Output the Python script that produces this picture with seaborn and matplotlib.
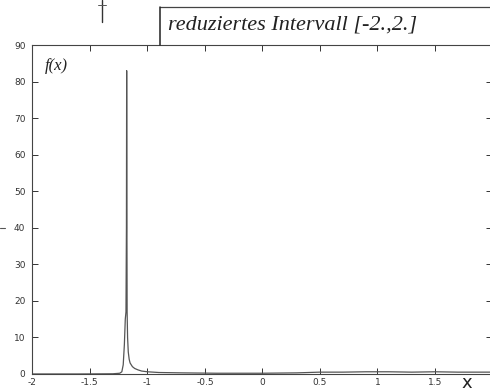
import numpy as np
import pandas as pd
import matplotlib.pyplot as plt
import seaborn as sns
from matplotlib.lines import Line2D

sns.set_theme(style="ticks")
plt.rcParams['font.family'] = ['DejaVu Sans']

# values (spike near x = -1.18)
x_vals = [-2.0, -1.6, -1.3, -1.24, -1.222, -1.21, -1.2, -1.192, -1.186, -1.182,
          -1.18, -1.178, -1.176, -1.172, -1.166, -1.158, -1.15, -1.13, -1.11,
          -1.08, -1.05, -1.0, -0.9, -0.7, -0.4, 0.0, 0.3, 0.5, 0.7, 0.9, 1.1,
          1.3, 1.5, 1.7, 2.0]
f_vals = [0.0, 0.0, 0.05, 0.2, 0.6, 2.5, 8.0, 15.0, 17.0, 40.0,
          83.0, 45.0, 17.0, 10.0, 6.0, 4.0, 3.0, 2.0, 1.5,
          1.1, 0.8, 0.6, 0.4, 0.3, 0.2, 0.2, 0.3, 0.5, 0.5, 0.6, 0.6,
          0.5, 0.6, 0.5, 0.5]
x_ticks = [-2, -1.5, -1, -0.5, 0, 0.5, 1, 1.5, 2]
x_tick_labels = ['-2', '-1.5', '-1', '-0.5', '0', '0.5', '1', '1.5', '']  # "2" lies outside the scan
y_ticks = [0, 10, 20, 30, 40, 50, 60, 70, 80, 90]

df = pd.DataFrame({'x': x_vals, 'f': f_vals})

fig = plt.figure(figsize=(4.9, 3.92), dpi=100)
ax = fig.add_axes([0.066, 0.046, 0.939, 0.839])

sns.lineplot(data=df, x='x', y='f', ax=ax, color='#555555', linewidth=0.9,
             estimator=None, sort=False)

ax.set_xlim(-2, 2)
ax.set_ylim(0, 90)
ax.set_xticks(x_ticks)
ax.set_xticklabels(x_tick_labels)
ax.set_yticks(y_ticks)
ax.set_xlabel('')
ax.set_ylabel('')
ax.tick_params(direction='in', length=4, width=0.7, labelsize=6.5,
               top=True, right=True, colors='#333333')
ax.tick_params(axis='x', pad=3)
ax.tick_params(axis='y', pad=5)
for s in ax.spines.values():
    s.set_color('#444444')
    s.set_linewidth(0.8)
    s.set_visible(True)

# handwritten annotations
ax.text(0.028, 0.935, 'f(x)', transform=ax.transAxes, fontsize=12,
        family='Liberation Serif', style='italic', color='#222222', va='center')
fig.text(0.953, 0.022, 'x', fontsize=13, color='#222222', ha='center', va='center')
fig.text(0.343, 0.935, 'reduziertes Intervall [-2.,2.]', fontsize=16,
         family='Liberation Serif', style='italic', color='#222222', va='center')

# box around the title note and stray pen marks
fig.add_artist(Line2D([0.3265, 1.0], [0.982, 0.982], color='#444444', lw=0.9))
fig.add_artist(Line2D([0.3265, 0.3265], [0.982, 0.885], color='#222222', lw=1.1))
fig.add_artist(Line2D([0.208, 0.208], [1.0, 0.944], color='#333333', lw=1.0))
fig.add_artist(Line2D([0.2, 0.216], [0.988, 0.988], color='#555555', lw=0.7))
fig.add_artist(Line2D([0.0, 0.01], [0.419, 0.419], color='#555555', lw=0.8))

fig.savefig('out.png', dpi=100)
